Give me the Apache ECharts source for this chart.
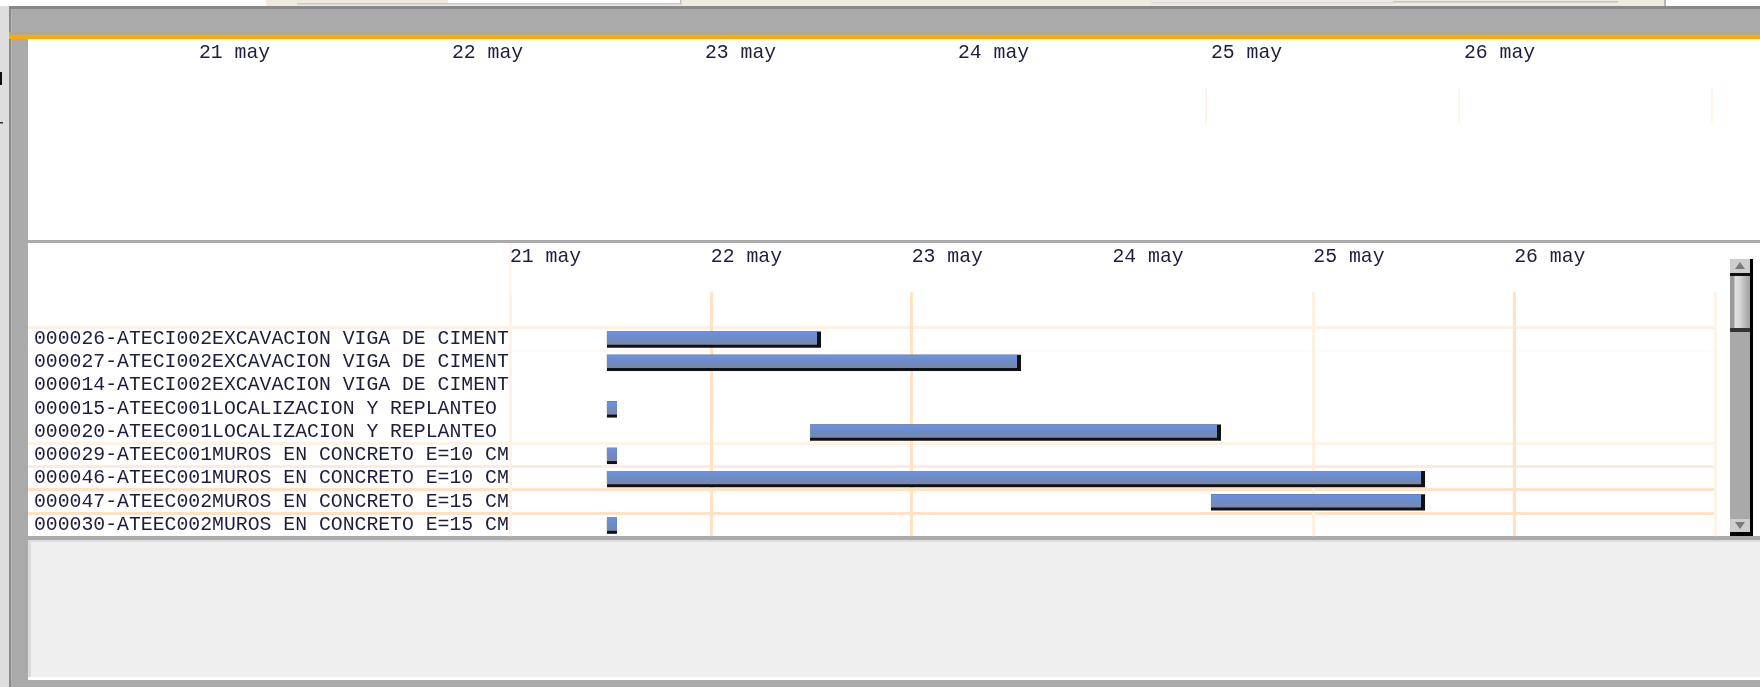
<!DOCTYPE html>
<html><head><meta charset="utf-8">
<script src="https://cdn.jsdelivr.net/npm/echarts@6/dist/echarts.min.js"></script>
<style>html,body{margin:0;padding:0;background:#fff;}#c{width:1760px;height:687px;}</style>
</head><body><div id="c"></div>
<script>
// ---------------- data ----------------
const taskNames = [
  '000026-ATECI002EXCAVACION VIGA DE CIMENT',
  '000027-ATECI002EXCAVACION VIGA DE CIMENT',
  '000014-ATECI002EXCAVACION VIGA DE CIMENT',
  '000015-ATEEC001LOCALIZACION Y REPLANTEO',
  '000020-ATEEC001LOCALIZACION Y REPLANTEO',
  '000029-ATEEC001MUROS EN CONCRETO E=10 CM',
  '000046-ATEEC001MUROS EN CONCRETO E=10 CM',
  '000047-ATEEC002MUROS EN CONCRETO E=15 CM',
  '000030-ATEEC002MUROS EN CONCRETO E=15 CM'
];
const taskStart = [
  '2013-05-21 11:35', '2013-05-21 11:35', null, '2013-05-21 11:35', '2013-05-22 11:51',
  '2013-05-21 11:35', '2013-05-21 11:35', '2013-05-24 11:46', '2013-05-21 11:35'
];
const taskEnd = [
  '2013-05-22 13:10', '2013-05-23 13:04', null, '2013-05-21 12:47', '2013-05-24 12:58',
  '2013-05-21 12:47', '2013-05-25 13:21', '2013-05-25 13:21', '2013-05-21 12:47'
];
const dayLabels = ['21 may', '22 may', '23 may', '24 may', '25 may', '26 may', ''];
const timelineStart = '2013-05-21 00:00';
const timelineHours = 144;

// ---------------- helpers ----------------
function utc(s) {
  const m = s.match(/(\d+)-(\d+)-(\d+) (\d+):(\d+)/);
  return Date.UTC(+m[1], +m[2] - 1, +m[3], +m[4], +m[5]);
}
const base = utc(timelineStart);
const hrs = s => (utc(s) - base) / 3600000;
const barData = [];
taskStart.forEach((s, i) => { if (s) barData.push([i, hrs(s), hrs(taskEnd[i])]); });

const FONT = '"Liberation Mono", "DejaVu Sans Mono", monospace';
const TXT = '#1e1e3c';
const T = 'rgba(0,0,0,0)';
const vColors = ['#fff3e8', '#ffe3c4', '#ffe3c4', T, '#fff0e0', '#ffe3c4', '#fff3e8'];
const labelFmt = v => dayLabels[Math.round(v / 24)] || '';

function xTime(gridIndex, opts) {
  return Object.assign({
    type: 'value', gridIndex, min: 0, max: timelineHours, interval: 24,
    axisLine: { show: false }, axisTick: { show: false },
    axisLabel: { show: false },
    splitLine: { show: true, lineStyle: { color: vColors, width: 3 } }
  }, opts || {});
}
function yHidden(gridIndex) {
  return { type: 'value', gridIndex, show: false, min: 0, max: 1 };
}

function renderBar(params, api) {
  const row = api.value(0);
  const p0 = api.coord([api.value(1), row]);
  const p1 = api.coord([api.value(2), row]);
  const cy = p0[1], x0 = p0[0], w = p1[0] - p0[0];
  const grad = new echarts.graphic.LinearGradient(0, 0, 0, 1, [
    { offset: 0, color: '#6793e6' }, { offset: 0.55, color: '#6f8ac4' }, { offset: 1, color: '#7a88a6' }
  ]);
  const blueW = w > 14 ? w - 4 : w;
  return {
    type: 'group',
    children: [
      { type: 'rect', shape: { x: x0, y: cy - 7, width: w, height: 16.3 }, style: { fill: '#111111' } },
      { type: 'rect', shape: { x: x0, y: cy - 7, width: blueW, height: 13.3 }, style: { fill: grad } }
    ]
  };
}

// ---------------- chrome ----------------
const R = (x, y, w, h, fill, z) => ({ type: 'rect', shape: { x, y, width: w, height: h }, style: { fill }, z: z == null ? -10 : z, silent: true });
const chrome = [
  R(266, 0, 1398, 6, '#f0e9e1'),
  R(448, 0, 233, 3.5, '#ffffff'),
  R(297, 3, 384, 1.5, '#c8c8c8'),
  R(680, 0, 1.5, 4.5, '#c0c0c0'),
  R(1151, 2, 242, 1.5, '#d8dde2'),
  R(1393, 1, 225, 1.5, '#c4c4c4'),
  R(1664, 0, 2, 6, '#b8b8b8'),
  R(0, 6, 9, 681, '#dedede'),
  R(0, 72, 2, 13, '#111111'),
  R(0, 122, 3, 1.5, '#333333'),
  R(9, 6, 2.5, 681, '#8a8a8a'),
  R(9, 6, 1751, 3, '#888888'),
  R(11.5, 9, 1748.5, 23, '#aaaaaa'),
  R(9, 32, 1751, 3, '#b2a88e'),
  R(9, 35, 1751, 4, '#ffaa00'),
  R(11.5, 39, 16.5, 648, '#aaaaaa'),
  R(28, 240, 1732, 3, '#aaaaaa'),
  R(28, 536, 1732, 4, '#aaaaaa'),
  R(28, 540, 1732, 2, '#dcdcdc'),
  R(28, 540, 3, 137, '#dcdcdc'),
  R(31, 542, 1729, 135, '#efefef'),
  R(11.5, 680, 1748.5, 7, '#aaaaaa'),
  // scrollbar
  R(1730, 259, 21, 277, '#a9a9a9', 20),
  R(1750, 259, 3, 277, '#000000', 20),
  R(1730, 259, 20, 14, '#cdcdcd', 20),
  { type: 'polygon', shape: { points: [[1740, 262], [1735, 269], [1745, 269]] }, style: { fill: '#7a7a7a' }, z: 21 },
  R(1730, 273, 20, 3, '#111111', 20),
  { type: 'rect', shape: { x: 1730, y: 276, width: 20, height: 52 }, z: 20,
    style: { fill: new echarts.graphic.LinearGradient(0, 0, 1, 0, [
      { offset: 0, color: '#9a9a9a' }, { offset: 0.2, color: '#9a9a9a' }, { offset: 0.25, color: '#e4e4e4' },
      { offset: 0.5, color: '#d6d6d6' }, { offset: 0.75, color: '#b8b8b8' }, { offset: 1, color: '#a0a0a0' }]) } },
  R(1730, 328, 20, 4, '#333333', 20),
  R(1730, 519, 20, 13, '#cdcdcd', 20),
  { type: 'polygon', shape: { points: [[1735, 522], [1745, 522], [1740, 529]] }, style: { fill: '#7a7a7a' }, z: 21 },
  R(1730, 532, 21, 4, '#000000', 20)
];

// ---------------- chart ----------------
const chart = echarts.init(document.getElementById('c'));
const rowTop = 326.9, rowH = 23.25 * taskNames.length;
chart.setOption({
  animation: false,
  backgroundColor: '#ffffff',
  graphic: { elements: chrome },
  grid: [
    { left: 194, width: 1518, top: 88, height: 35 },           // 0 top overview
    { left: 510, width: 1205, top: rowTop, height: rowH },     // 1 gantt bars
    { left: 510, width: 1205, top: 292, height: rowTop - 292 },// 2 header lines + labels
    { left: 28, width: 1688, top: rowTop, height: rowH },      // 3 row labels + row lines
    { left: 510, width: 1205, top: 243, height: 49 }           // 4 header top strip
  ],
  xAxis: [
    xTime(0, {
      position: 'top',
      axisLabel: { show: true, formatter: labelFmt, align: 'left', margin: 25.5, padding: [0, 0, 0, 5],
        fontFamily: FONT, fontSize: 19.8, color: TXT },
      splitLine: { show: true, lineStyle: { color: [T, T, T, T, '#fff4ea', '#fff4ea', '#fff4ea'], width: 2 } }
    }),
    xTime(1),
    xTime(2, {
      position: 'top',
      axisLabel: { show: true, formatter: labelFmt, align: 'left', margin: 25, padding: [0, 0, 0, 0],
        fontFamily: FONT, fontSize: 19.8, color: TXT }
    }),
    { type: 'value', gridIndex: 3, show: false, min: 0, max: 1 },
    xTime(4, { splitLine: { show: true, lineStyle: { color: ['#fff5ee', T, T, T, T, T, T], width: 3 } } })
  ],
  yAxis: [
    yHidden(0),
    { type: 'category', gridIndex: 1, data: taskNames, inverse: true, show: false },
    yHidden(2),
    {
      type: 'category', gridIndex: 3, data: taskNames, inverse: true,
      axisLine: { show: false }, axisTick: { show: false, interval: 0 },
      axisLabel: { inside: true, interval: 0, margin: 6, fontFamily: FONT, fontSize: 19.8, color: TXT },
      splitLine: { show: true, interval: 0, lineStyle: { width: 3,
        color: ['#fdf0e4', '#fffaf5', T, T, T, '#fff3e6', '#fdecdc', '#ffe2c4', '#ffe2c4', T] } }
    },
    yHidden(4)
  ],
  series: [{
    type: 'custom', xAxisIndex: 1, yAxisIndex: 1,
    renderItem: renderBar,
    encode: { x: [1, 2], y: 0 },
    data: barData,
    z: 5
  }]
});
</script></body></html>
